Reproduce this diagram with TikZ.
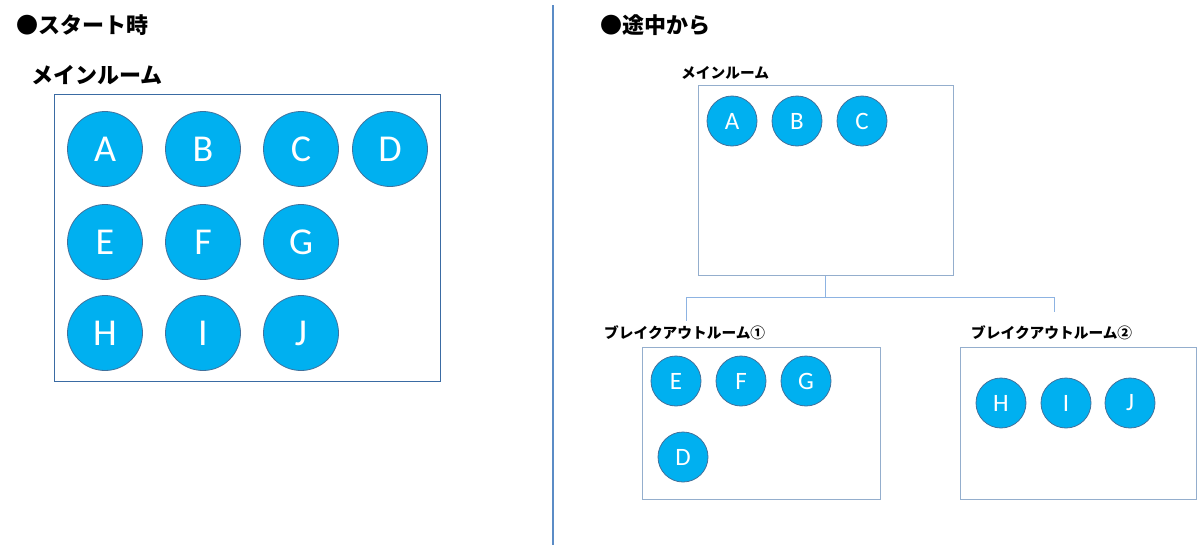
\documentclass[tikz,border=0pt]{standalone}
\usepackage{fontspec}
\setmainfont{Carlito}
\newfontfamily\jpfont{Noto Sans CJK JP}
\usetikzlibrary{positioning}
\definecolor{zmcyan}{HTML}{00B0F0}
\definecolor{zmedge}{HTML}{41719C}
\definecolor{zmdark}{HTML}{3A6BA3}
\definecolor{zmlight}{HTML}{94AECD}
\definecolor{zmlink}{HTML}{8DB3E2}
\definecolor{zmrule}{HTML}{5B8CC6}
\tikzset{
  head/.style={anchor=west,inner sep=0pt,font=\jpfont\bfseries\fontsize{22}{26}\selectfont},
  roomlab/.style={anchor=west,inner sep=0pt,font=\jpfont\bfseries\fontsize{14.7}{17}\selectfont},
  bigroom/.style={draw=zmdark,line width=1pt,inner sep=0pt},
  room/.style={draw=zmlight,line width=1pt,inner sep=0pt},
  big/.style={circle,fill=zmcyan,draw=zmedge,line width=0.8pt,minimum size=75pt,inner sep=0pt,text=white,font=\fontsize{38}{38}\selectfont},
  small/.style={big,minimum size=50pt,font=\fontsize{25}{25}\selectfont},
  lnk/.style={draw=zmlink,line width=1pt},
  divider/.style={draw=zmrule,line width=1.2pt},
}
\begin{document}
\begin{tikzpicture}[x=1pt,y=-1pt]
  \useasboundingbox[fill=white] (0,0) rectangle (1199,546);

  % left half: at the start
  \node[head] (startT) at (16,25) {●スタート時};
  \node[head] (mainLT) at (31,75) {メインルーム};
  \node[bigroom,minimum width=386pt,minimum height=287pt] (mainL) at (247,237.5) {};

  \node[big] (la) at (105,149) {A};
  \node[big] (lb) at (203,149) {B};
  \node[big] (lc) at (301,149) {C};
  \node[big] (ld) at (390,149) {D};
  \node[big] (le) at (105,242) {E};
  \node[big] (lf) at (203,242) {F};
  \node[big] (lg) at (301,242) {G};
  \node[big] (lh) at (105,333) {H};
  \node[big] (li) at (203,333) {I};
  \node[big] (lj) at (301,333) {J};

  % divider
  \coordinate (dtop) at (553,5);
  \coordinate (dbot) at (553,545);
  \draw[divider] (dtop) -- (dbot);

  % right half: from midway
  \node[head] (midT) at (600,25) {●途中から};
  \node[roomlab] (mainRT) at (681,73) {メインルーム};
  \node[room,minimum width=255pt,minimum height=190pt] (mainR) at (825.5,180) {};
  \node[small] (ra) at (732,121) {A};
  \node[small] (rb) at (797,121) {B};
  \node[small] (rc) at (862,121) {C};

  \node[roomlab] (br1T) at (604,333) {ブレイクアウトルーム①};
  \node[room,minimum width=238pt,minimum height=152pt] (br1) at (761,423) {};
  \node[small] (re) at (676,381) {E};
  \node[small] (rf) at (741,381) {F};
  \node[small] (rg) at (806,381) {G};
  \node[small] (rd) at (683,457) {D};

  \node[roomlab] (br2T) at (971,333) {ブレイクアウトルーム②};
  \node[room,minimum width=236pt,minimum height=152pt] (br2) at (1078,423) {};
  \node[small] (rh) at (1001,403) {H};
  \node[small] (ri) at (1066,403) {I};
  \node[small] (rj) at (1130,403) {J};

  \coordinate (end1) at (686,321);
  \coordinate (end2) at (1054,312);
  \draw[lnk] (mainR.south) -- ++(0,22) coordinate (fork);
  \draw[lnk] (fork) -| (end1);
  \draw[lnk] (fork) -| (end2);
\end{tikzpicture}
\end{document}
